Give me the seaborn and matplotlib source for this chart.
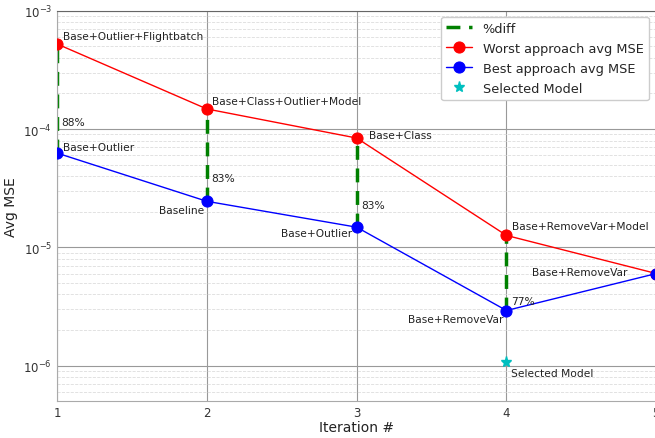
import matplotlib
matplotlib.use("Agg")
import matplotlib.pyplot as plt
import seaborn as sns
import numpy as np
import pandas as pd

iterations = [1, 2, 3, 4, 5]
worst_mse = [5.25e-4, 1.48e-4, 8.4e-5, 1.26e-5, 6.0e-6]
best_mse = [6.27e-5, 2.45e-5, 1.48e-5, 2.92e-6, 6.0e-6]
worst_labels = ["Base+Outlier+Flightbatch", "Base+Class+Outlier+Model", "Base+Class",
                "Base+RemoveVar+Model", "Base+RemoveVar"]
best_labels = ["Base+Outlier", "Baseline", "Base+Outlier", "Base+RemoveVar", None]
pct_iters = [1, 2, 3, 4]
pct_labels = ["88%", "83%", "83%", "77%"]
selected_iter = 4
selected_mse = 1.08e-6

sns.set_style("white")
plt.rcParams['font.family'] = ['DejaVu Sans']

fig = plt.figure(figsize=(6.55, 4.39), dpi=100)
ax = fig.add_axes([0.087, 0.084, 0.915, 0.889])

df = pd.DataFrame({"it": iterations, "worst": worst_mse, "best": best_mse})

# diff lines
for i, it in enumerate(pct_iters):
    ax.plot([it, it], [best_mse[i], worst_mse[i]], color="green", ls="--", lw=2.5,
            dashes=(4, 2.5), label="%diff" if i == 0 else None, zorder=2)

sns.lineplot(data=df, x="it", y="worst", color="red", marker="o", markersize=8,
             markeredgecolor="red", lw=1, ax=ax, label="Worst approach avg MSE", zorder=3)
sns.lineplot(data=df, x="it", y="best", color="blue", marker="o", markersize=8,
             markeredgecolor="blue", lw=1, ax=ax, label="Best approach avg MSE", zorder=3)
ax.plot([selected_iter], [selected_mse], "c*", markersize=8, ls="none",
        label="Selected Model", zorder=3)

ax.set_yscale("log")
ax.set_ylim(5e-7, 1e-3)
ax.set_xlim(1, 5)
ax.set_xticks(iterations)

fs = 7.7
tc = "#222222"
# worst labels
w_off = [(4, 6), (4, 6), (9, 2), (4, 7), None]
for i, (lab, off) in enumerate(zip(worst_labels, w_off)):
    if off is None:
        continue
    ax.annotate(lab, (iterations[i], worst_mse[i]), xytext=off, textcoords="offset points",
                ha="left", va="center", fontsize=fs, color=tc)
ax.annotate(worst_labels[4], (iterations[4], worst_mse[4]), xytext=(-21, 1),
            textcoords="offset points", ha="right", va="center", fontsize=fs, color=tc)
# best labels
b_off = [((4, 4), "left"), ((-2, -6), "right"), ((-3, -4), "right"), ((-2, -6), "right")]
for i, (off, ha) in enumerate(b_off):
    ax.annotate(best_labels[i], (iterations[i], best_mse[i]), xytext=off,
                textcoords="offset points", ha=ha, va="center", fontsize=fs, color=tc)
ax.annotate("Selected Model", (selected_iter, selected_mse), xytext=(3, -8),
            textcoords="offset points", ha="left", va="center", fontsize=fs, color=tc)
# percent labels
pct_off = [(3, 2), (3, 2), (3, 2), (3, -3.5)]
for i, lab in enumerate(pct_labels):
    yv = best_mse[i] + 0.1 * (worst_mse[i] - best_mse[i])
    ax.annotate(lab, (pct_iters[i], yv), xytext=pct_off[i], textcoords="offset points",
                ha="left", va="center", fontsize=fs, color=tc)

ax.grid(which="major", color="#999999", lw=0.8, ls="-")
ax.grid(which="minor", axis="y", color="#dddddd", lw=0.6, ls="--")
ax.set_axisbelow(True)
for s in ["left", "bottom"]:
    ax.spines[s].set_color("#aaaaaa")
ax.spines["top"].set_color("#666666")
ax.spines["right"].set_color("#666666")
ax.tick_params(axis="both", which="major", labelsize=8.5, colors="#333333", length=3)
ax.tick_params(axis="x", which="major", pad=0.5)
ax.tick_params(axis="y", which="minor", length=0)
ax.tick_params(axis="y", which="major", length=0)

ax.set_xlabel("Iteration #", fontsize=10, color=tc, labelpad=1)
ax.set_ylabel("Avg MSE", fontsize=10, color=tc, labelpad=4)

leg = ax.legend(loc="upper right", bbox_to_anchor=(0.998, 1.002), fontsize=9.3, framealpha=1,
                handlelength=2.0, borderpad=0.4, labelspacing=0.55)
leg.get_frame().set_edgecolor("#cccccc")

fig.savefig("out.png", dpi=100)
